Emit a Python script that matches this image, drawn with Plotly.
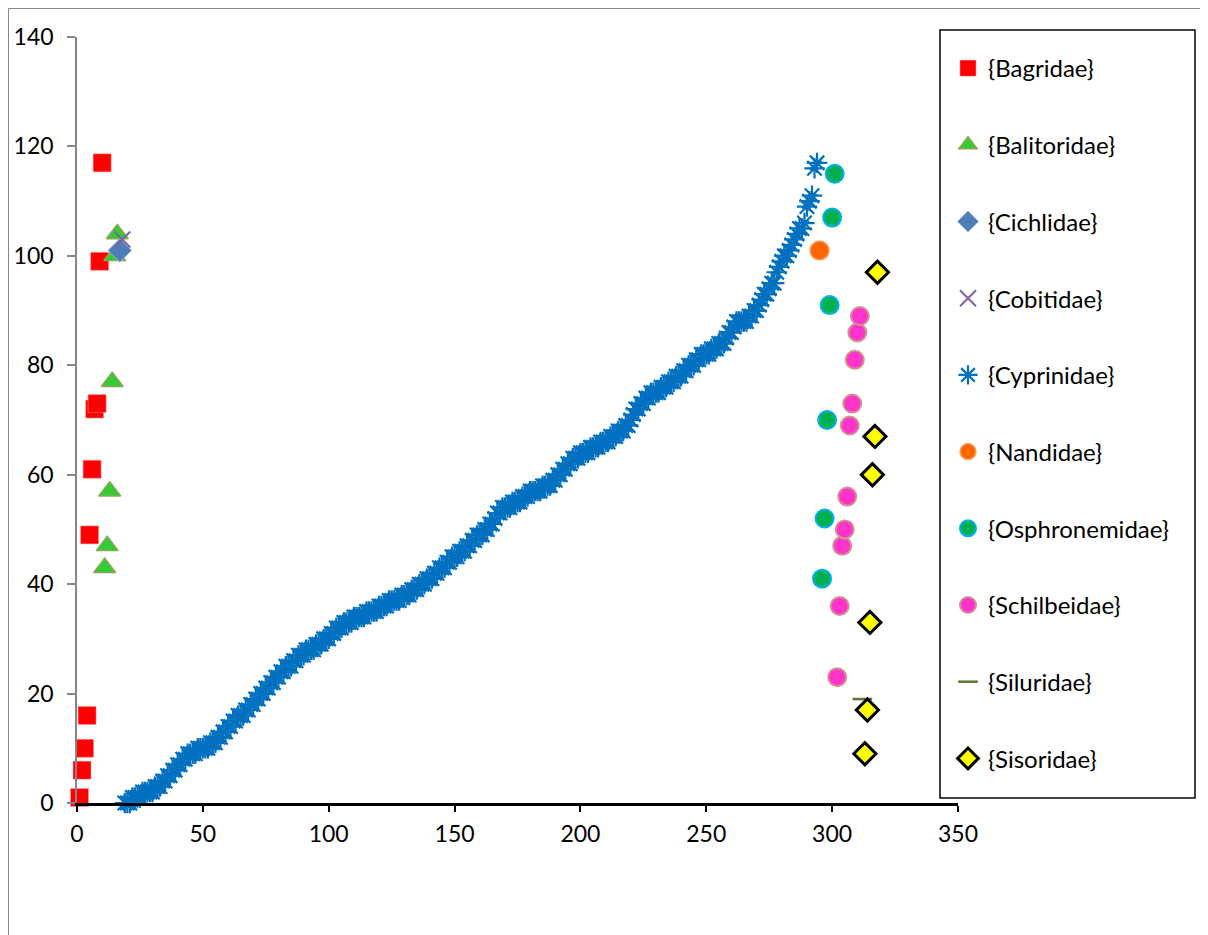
import plotly.graph_objects as go

# ---- data ----
bag_x = [1, 2, 3, 4, 5, 6, 7, 8, 9, 10]
bag_y = [1, 6, 10, 16, 49, 61, 72, 73, 99, 117]

bal_x = [11, 12, 13, 14, 15, 16]
bal_y = [43, 47, 57, 77, 100, 104]

cic_x = [17]
cic_y = [101]

cob_x = [18]
cob_y = [103]

cyp_y = [
    0, 0, 0, 1, 1, 1, 1, 2, 2, 2, 2,
    2, 3, 3, 3, 4, 4, 5, 5, 6, 6,
    7, 7, 8, 8, 9, 9,
    9, 9, 10, 10, 10, 10, 10, 11,
    11, 11, 12, 12, 13, 13, 14, 14,
    15, 15, 16, 16, 16, 17, 17, 18,
    18, 19, 19, 20, 20, 21, 21, 22, 22, 23, 23, 24,
    24, 25, 25, 25, 26, 26, 27, 27,
    27, 28, 28, 28, 28, 29, 29, 29, 30, 30,
    30, 31, 31, 32, 32, 32, 33, 33, 33,
    33, 34, 34, 34, 34, 34, 35, 35, 35, 35,
    35, 36, 36, 36, 36, 37, 37, 37, 37, 37,
    38, 38, 38, 38, 39, 39, 39, 40, 40, 40,
    41, 41, 41, 42, 42, 43, 43, 43, 44, 44,
    45, 45, 45, 46, 46, 46, 47, 47, 48, 48,
    49, 49, 49, 50, 50, 51, 51, 52, 53, 53,
    54, 54, 54, 54, 55, 55, 55, 55, 56, 56,
    56, 57, 57, 57, 57, 57, 58, 58, 58, 58,
    59, 59, 60, 60, 61, 61, 62, 62, 63, 63,
    63, 64, 64, 64, 64, 65, 65, 65, 65,
    66, 66, 66, 66, 67, 67, 67, 68, 68, 68,
    69, 69, 70, 71, 72, 72, 73, 73, 74, 74,
    75, 75, 75, 75, 76, 76, 76, 77, 77, 77,
    78, 78, 78, 79, 79, 80, 80, 80, 81, 81,
    82, 82, 82, 82, 83, 83, 83, 84, 84, 84,
    85, 86, 86, 87, 88, 88,
    88, 88, 88, 89, 89, 90, 90, 91,
    92, 93, 93, 94, 95, 95,
    97, 98, 99, 100, 100, 101,
    102, 103, 104, 105,
    105, 106, 109, 110, 111, 116, 117,
]
cyp_x = list(range(19, 19 + len(cyp_y)))

nan_x = [295]
nan_y = [101]

osp_x = [296, 297, 298, 299, 300, 301]
osp_y = [41, 52, 70, 91, 107, 115]

sch_x = [302, 303, 304, 305, 306, 307, 308, 309, 310, 311]
sch_y = [23, 36, 47, 50, 56, 69, 73, 81, 86, 89]

sil_x = [312]
sil_y = [19]

sis_x = [313, 314, 315, 316, 317, 318]
sis_y = [9, 17, 33, 60, 67, 97]

x_ticks = [0, 50, 100, 150, 200, 250, 300, 350]
y_ticks = [0, 20, 40, 60, 80, 100, 120, 140]

# ---- figure ----
fig = go.Figure()

def add(name, xs, ys, marker):
    fig.add_trace(go.Scatter(x=xs, y=ys, mode="markers", name=name,
                             legendgroup=name, marker=marker, cliponaxis=False))

add("{Bagridae}", bag_x, bag_y,
    dict(symbol="square", size=18, color="#FF0000", line=dict(width=0.5, color="#F5A0A0")))
add("{Balitoridae}", bal_x, bal_y,
    dict(symbol="triangle-up", size=19, color="#33CC33", line=dict(width=1.5, color="#8DA55A")))
add("{Cichlidae}", cic_x, cic_y,
    dict(symbol="diamond", size=18, color="#4F7DB8", line=dict(width=1, color="#8FB0D8")))
add("{Cobitidae}", cob_x, cob_y,
    dict(symbol="x-thin-open", size=16, color="#7F63A0", line=dict(width=2, color="#7F63A0")))
add("{Cyprinidae}", cyp_x, cyp_y,
    dict(symbol="asterisk-open", size=17, color="#0070C0", line=dict(width=2.2, color="#0070C0")))
add("{Nandidae}", nan_x, nan_y,
    dict(symbol="circle", size=19, color="#FF6600", line=dict(width=1.5, color="#F4A46A")))
add("{Osphronemidae}", osp_x, osp_y,
    dict(symbol="circle", size=18, color="#00B050", line=dict(width=2, color="#00B0F0")))
add("{Schilbeidae}", sch_x, sch_y,
    dict(symbol="circle", size=18, color="#FF33CC", line=dict(width=2, color="#D09490")))
add("{Siluridae}", sil_x, sil_y,
    dict(symbol="line-ew-open", size=14, color="#5F7530", line=dict(width=2.5, color="#6E8A3A")))
add("{Sisoridae}", sis_x, sis_y,
    dict(symbol="diamond", size=17, color="#FFFF00", line=dict(width=3, color="#000000")))

# the page body adds an 8px margin, so figure coords = page coords - 8
OFF = 8
W, H = 1200, 927
L, T = 69, 29
pw, ph = 881, 766
R, B = W - L - pw, H - T - ph

def px(xp):
    return (xp - OFF - L) / pw

def py(yp):
    return (T + ph - (yp - OFF)) / ph

FONT = "Lato, Carlito, Calibri, sans-serif"

fig.update_layout(
    width=W, height=H,
    margin=dict(l=L, r=R, t=T, b=B, autoexpand=False),
    paper_bgcolor="white", plot_bgcolor="white",
    font=dict(family=FONT, size=24, color="black"),
    showlegend=True,
    legend=dict(
        x=px(948), y=py(46), xanchor="left", yanchor="top",
        bgcolor="rgba(0,0,0,0)", borderwidth=0,
        traceorder="grouped", tracegroupgap=42.5,
        font=dict(family=FONT, size=24, color="black"),
    ),
    xaxis=dict(
        range=[0, 350], tickmode="array", tickvals=x_ticks,
        showgrid=False, zeroline=False, automargin=False,
        showline=True, linecolor="black", linewidth=3,
        ticks="outside", ticklen=6, tickwidth=2, tickcolor="black",
        ticklabelstandoff=2,
        tickfont=dict(family=FONT, size=23),
    ),
    yaxis=dict(
        range=[0, 140], tickmode="array", tickvals=y_ticks,
        showgrid=False, zeroline=False, automargin=False,
        showline=True, linecolor="#868686", linewidth=1.5,
        ticks="outside", ticklen=8, tickwidth=1.5, tickcolor="#868686",
        ticklabelstandoff=9,
        tickfont=dict(family=FONT, size=23),
    ),
    shapes=[
        dict(type="rect", xref="paper", yref="paper",
             x0=px(940), x1=px(1195), y0=py(798), y1=py(30),
             line=dict(color="black", width=1.5), fillcolor="rgba(0,0,0,0)", layer="above"),
        dict(type="rect", xref="paper", yref="paper",
             x0=px(8.5), x1=px(1205), y0=py(960), y1=py(8.5),
             line=dict(color="#868686", width=1), fillcolor="rgba(0,0,0,0)", layer="below"),
    ],
)

fig.write_html("out.html")
